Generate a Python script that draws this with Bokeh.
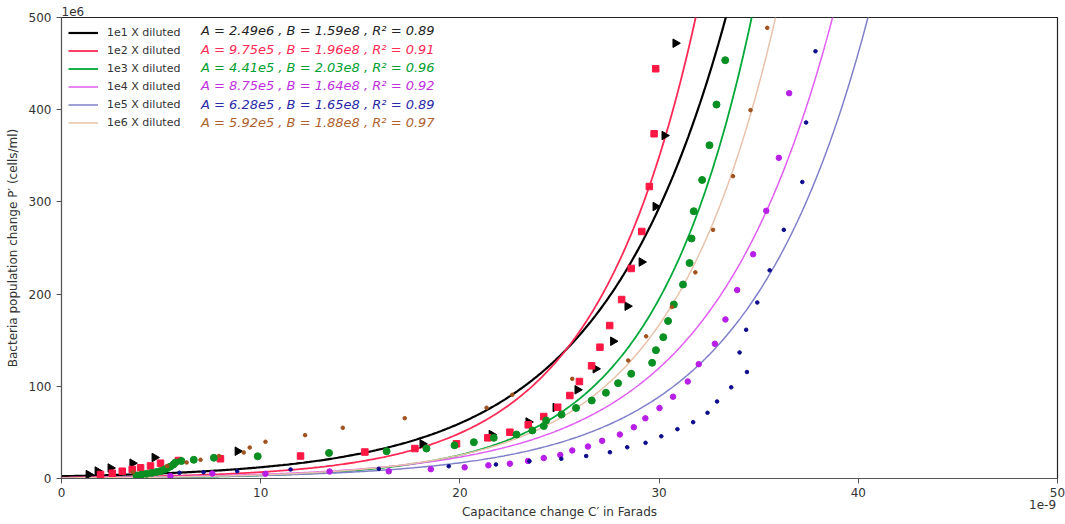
import numpy as np
from bokeh.plotting import figure
from bokeh.models import (Range1d, Label, FixedTicker, Legend, LegendItem,
                          LinearAxis, Title)
from bokeh.embed import file_html
from bokeh.resources import INLINE

# ---------------- data (x in 1e-9 F, y in 1e6 cells/ml) ----------------
series_names = ["1e1 X diluted", "1e2 X diluted", "1e3 X diluted",
                "1e4 X diluted", "1e5 X diluted", "1e6 X diluted"]
fit_A = [2.49e6, 9.75e5, 4.41e5, 8.75e5, 6.28e5, 5.92e5]
fit_B = [1.59e8, 1.96e8, 2.03e8, 1.64e8, 1.65e8, 1.88e8]
fit_R2 = [0.89, 0.91, 0.96, 0.92, 0.89, 0.97]
fit_A_txt = ["2.49e6", "9.75e5", "4.41e5", "8.75e5", "6.28e5", "5.92e5"]
fit_B_txt = ["1.59e8", "1.96e8", "2.03e8", "1.64e8", "1.65e8", "1.88e8"]

x_1e1 = [1.36, 1.81, 2.46, 3.56, 4.67, 8.84, 18.12, 21.59, 23.44, 24.80, 25.90,
         26.81, 27.69, 28.41, 29.12, 29.82, 30.27, 30.82]
y_1e1 = [4.3, 8.1, 11.4, 16.6, 22.8, 29.6, 37.6, 47.7, 61.3, 77.0, 96.2,
         119.0, 148.9, 186.9, 234.8, 295.0, 372.0, 472.1]

x_1e2 = [1.96, 2.55, 3.05, 3.55, 3.97, 4.47, 4.97, 5.87, 7.98, 12.00, 15.23,
         17.74, 19.83, 21.40, 22.51, 23.43, 24.21, 24.91, 25.52, 26.00, 26.61,
         27.03, 27.52, 28.12, 28.60, 29.13, 29.51, 29.75, 29.83]
y_1e2 = [4.3, 5.7, 7.9, 9.8, 11.6, 13.6, 16.6, 19.5, 21.4, 24.4, 28.7,
         32.5, 37.6, 44.1, 50.2, 58.2, 67.2, 77.3, 90.0, 105.2, 122.2,
         142.4, 165.9, 194.1, 227.8, 267.9, 316.7, 373.9, 444.4]

x_1e3 = [3.77, 4.02, 4.27, 4.52, 4.77, 4.97, 5.17, 5.32, 5.47, 5.62, 5.72,
         6.02, 6.64, 7.65, 9.85, 13.43, 16.32, 18.32, 19.73, 20.70, 21.70,
         22.84, 23.64, 24.21, 24.33, 25.10, 25.83, 26.62, 27.33, 27.94, 28.60,
         29.65, 29.84, 30.21, 30.45, 30.74, 31.20, 31.53, 31.63, 31.74, 32.16,
         32.53, 32.88, 33.32]
y_1e3 = [3.3, 4.3, 5.1, 6.0, 7.0, 8.1, 9.8, 11.4, 13.0, 15.2, 17.4,
         19.0, 20.3, 22.5, 24.1, 27.7, 29.6, 32.5, 36.0, 39.4, 44.1,
         47.7, 52.1, 56.9, 62.9, 69.4, 76.5, 84.6, 93.0, 103.4, 113.6,
         125.5, 139.2, 153.3, 170.8, 188.7, 210.4, 233.7, 260.3, 289.9, 323.8,
         361.5, 405.6, 453.7]

x_1e4 = [5.47, 7.57, 10.24, 13.46, 16.43, 18.54, 20.24, 21.43, 22.51, 23.42,
         24.21, 25.04, 25.64, 26.43, 27.14, 28.03, 28.73, 29.31, 30.02, 30.70,
         31.44, 31.99, 32.80, 33.33, 33.92, 34.72, 35.38, 36.01, 36.53]
y_1e4 = [2.7, 5.4, 5.1, 7.6, 7.8, 10.1, 12.1, 14.3, 16.1, 19.0,
         22.2, 25.5, 30.4, 34.7, 40.9, 47.7, 55.6, 65.3, 76.4, 88.7,
         105.2, 124.0, 146.1, 172.5, 204.4, 243.2, 290.3, 347.8, 417.9]

x_1e5 = [5.92, 7.13, 8.82, 11.50, 15.93, 19.44, 21.81, 23.49, 25.09, 26.34,
         27.53, 28.40, 29.32, 30.11, 30.92, 31.71, 32.43, 32.91, 33.62, 34.41,
         34.04, 34.37, 34.93, 35.55, 36.26, 37.19, 37.38, 37.85]
y_1e5 = [6.2, 6.8, 7.9, 9.8, 10.5, 13.3, 15.2, 18.7, 21.4, 24.4,
         28.5, 33.9, 38.7, 45.8, 53.5, 61.1, 71.3, 83.5, 98.9, 115.5,
         136.7, 161.3, 190.9, 225.8, 269.7, 321.6, 386.1, 463.4]

x_1e6 = [3.58, 5.31, 6.28, 6.98, 7.91, 9.15, 9.45, 10.24, 12.23, 14.12, 17.23,
         21.34, 22.63, 25.64, 28.45, 29.35, 30.64, 31.82, 32.71, 33.71, 34.59,
         35.43]
y_1e6 = [6.8, 13.6, 17.4, 20.3, 24.4, 28.2, 33.6, 39.8, 47.0, 55.0, 65.4,
         76.7, 90.8, 108.1, 128.0, 154.2, 186.0, 223.6, 269.7, 327.9, 399.5,
         488.8]

x_ticks = [0, 10, 20, 30, 40, 50]
y_ticks = [0, 100, 200, 300, 400, 500]
y_offset_text = "1e6"
x_offset_text = "1e-9"

# ---------------- styling ----------------
line_colors = ["#000000", "#ff2a55", "#00a838", "#e05ef2", "#7f80c8", "#e8c2aa"]
line_widths = [2.2, 1.8, 1.8, 1.5, 1.5, 1.5]
text_colors = ["#222222", "#ff2a55", "#00a030", "#c030e0", "#2a2aa8", "#b0622e"]
FONT = "DejaVu Sans"

p = figure(width=1065, height=524, output_backend="svg", toolbar_location=None,
           x_range=Range1d(0, 50), y_range=Range1d(0, 500),
           min_border_left=61, min_border_right=8, min_border_top=17,
           min_border_bottom=46)
p.grid.visible = False
p.outline_line_color = "#222222"
p.outline_line_width = 1.2
p.background_fill_color = "white"

# y offset text "1e6" as a left-aligned title above the frame
p.title = Title(text=y_offset_text, align="left", text_font=FONT,
                text_font_size="12px", text_font_style="normal",
                text_color="#333333", standoff=3, offset=0)

for ax in (p.xaxis[0], p.yaxis[0]):
    ax.major_label_text_font = FONT
    ax.major_label_text_font_size = "12px"
    ax.major_label_text_color = "#333333"
    ax.axis_label_text_font = FONT
    ax.axis_label_text_font_size = "12px"
    ax.axis_label_text_font_style = "normal"
    ax.axis_label_text_color = "#333333"
    ax.minor_tick_line_color = None
    ax.major_tick_in = 0
    ax.major_tick_out = 5
    ax.axis_line_color = "#555555"
    ax.major_tick_line_color = "#555555"

p.xaxis.ticker = FixedTicker(ticks=x_ticks)
p.yaxis.ticker = FixedTicker(ticks=y_ticks)
p.yaxis.axis_label = "Bacteria population change P\u2032 (cells/ml)"
p.yaxis.axis_label_standoff = 6
p.xaxis.major_label_standoff = 4

# secondary bottom axis carries the "1e-9" offset text and the x axis label
ax2 = LinearAxis(ticker=FixedTicker(ticks=[49.25]),
                 major_label_overrides={49.25: x_offset_text})
ax2.axis_line_color = None
ax2.major_tick_line_color = None
ax2.minor_tick_line_color = None
ax2.major_tick_in = 0
ax2.major_tick_out = 0
ax2.major_label_standoff = 0
ax2.major_label_text_font = FONT
ax2.major_label_text_font_size = "12px"
ax2.major_label_text_color = "#333333"
ax2.axis_label = "Capacitance change C\u2032 in Farads"
ax2.axis_label_text_font = FONT
ax2.axis_label_text_font_size = "12px"
ax2.axis_label_text_font_style = "normal"
ax2.axis_label_text_color = "#333333"
ax2.axis_label_standoff = -7
p.add_layout(ax2, "below")

# fitted curves from the shown parameters:  P' = A * exp(B * C')
xs = np.linspace(0, 50, 600)
legend_items = []
for i in range(6):
    ys = fit_A[i] / 1e6 * np.exp(fit_B[i] * 1e-9 * xs)
    mask = ys < 560
    r = p.line(xs[mask], ys[mask], line_color=line_colors[i], line_width=line_widths[i])
    legend_items.append(LegendItem(label=series_names[i], renderers=[r]))

# measured points
p.scatter(x_1e1, y_1e1, marker="triangle", angle=-np.pi / 2, size=8.5,
          fill_color="#000000", line_color="#000000")
p.scatter(x_1e2, y_1e2, marker="square", size=6.5,
          fill_color="#ff1744", line_color="#ff1744")
p.scatter(x_1e3, y_1e3, marker="circle", size=7,
          fill_color="#0a8f22", line_color="#0a8f22")
p.scatter(x_1e4, y_1e4, marker="circle", size=5.5,
          fill_color="#b81ee6", line_color="#b81ee6")
p.scatter(x_1e5, y_1e5, marker="circle", size=3.6,
          fill_color="#0c0c8c", line_color="#0c0c8c")
p.scatter(x_1e6, y_1e6, marker="circle", size=3.6,
          fill_color="#a0521e", line_color="#a0521e")

legend = Legend(items=legend_items, location="top_left")
legend.border_line_alpha = 0
legend.background_fill_alpha = 0
legend.label_text_font = FONT
legend.label_text_font_size = "11px"
legend.label_text_color = "#333333"
legend.glyph_width = 30
legend.glyph_height = 17
legend.label_height = 17
legend.spacing = 1
legend.padding = 2
legend.margin = 5
legend.label_standoff = 9
p.add_layout(legend)

# fit parameter annotations
for i in range(6):
    txt = f"A = {fit_A_txt[i]} , B = {fit_B_txt[i]} , R\u00b2 = {fit_R2[i]:.2f}"
    p.add_layout(Label(x=7.0, y=485.5 - i * 19.85, text=txt,
                       text_font=FONT, text_font_size="13px",
                       text_font_style="italic", text_color=text_colors[i],
                       text_baseline="middle", text_align="left"))

open("out.html", "w").write(file_html(p, INLINE))
